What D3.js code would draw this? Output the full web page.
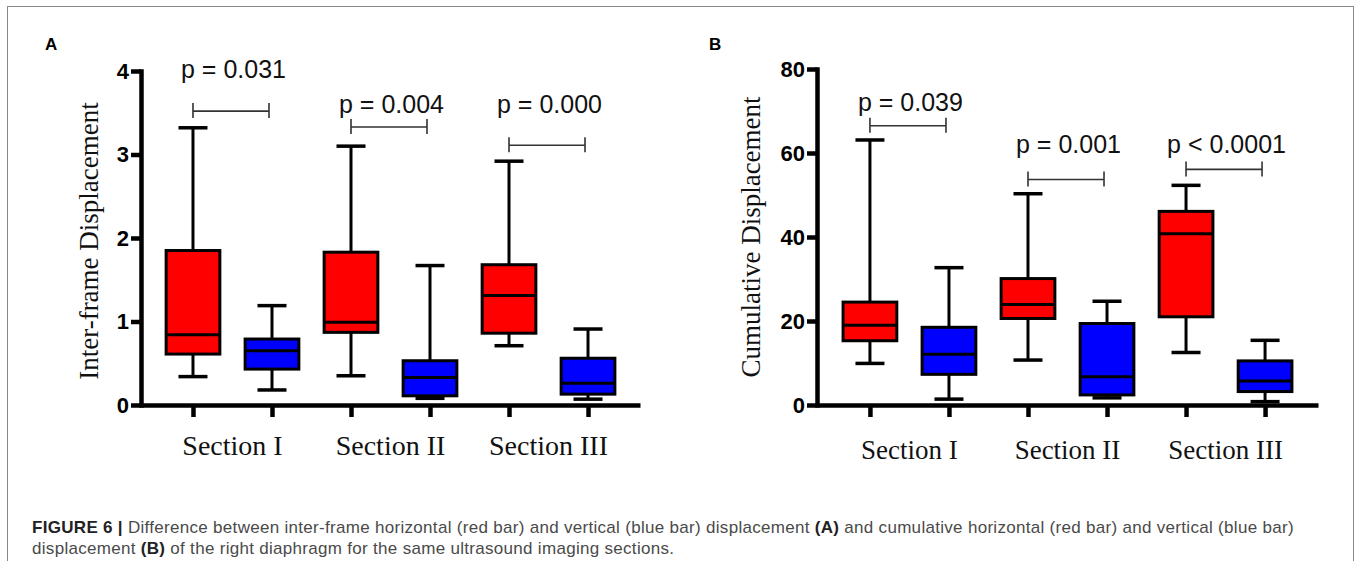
<!DOCTYPE html>
<html>
<head>
<meta charset="utf-8">
<script src="https://cdn.jsdelivr.net/npm/d3@7"></script>
<style>
  body { margin: 0; background: #fff; }
  .tick text { font-family: "Liberation Sans", Arial, sans-serif; font-weight: bold; font-size: 22px; fill: #000; }
  .ptext { font-family: "Liberation Sans", Arial, sans-serif; font-size: 25px; fill: #111; }
  .serif { font-family: "Liberation Serif", "Times New Roman", serif; font-size: 27px; fill: #111; }
  .cap { font-family: "Liberation Sans", Arial, sans-serif; font-size: 17px; letter-spacing: 0.3px; fill: #4a4a4a; }
</style>
</head>
<body>
<script>
var sections = ["Section I", "Section II", "Section III"];
var groups = ["horizontal", "vertical"];
var groupColors = ["#FF0000", "#0000FF"];

// [min, q1, median, q3, max] for each section
var interHorizontal = [[0.34, 0.61, 0.84, 1.85, 3.32], [0.35, 0.87, 0.99, 1.83, 3.10], [0.71, 0.86, 1.31, 1.68, 2.92]];
var interVertical = [[0.18, 0.43, 0.65, 0.79, 1.19], [0.08, 0.11, 0.33, 0.53, 1.67], [0.07, 0.13, 0.26, 0.56, 0.91]];
var cumHorizontal = [[9.9, 15.3, 19.0, 24.5, 63.1], [10.7, 20.6, 23.9, 30.1, 50.3], [12.5, 21.0, 40.8, 46.1, 52.3]];
var cumVertical = [[1.4, 7.3, 12.1, 18.5, 32.7], [1.7, 2.4, 6.7, 19.4, 24.7], [0.8, 3.2, 5.7, 10.5, 15.4]];

var interTicks = [0, 1, 2, 3, 4];
var cumTicks = [0, 20, 40, 60, 80];

var interP = ["p = 0.031", "p = 0.004", "p = 0.000"];
var interBracketAt = [3.52, 3.33, 3.11];
var interPAt = [3.92, 3.50, 3.50];
var cumP = ["p = 0.039", "p = 0.001", "p < 0.0001"];
var cumBracketAt = [66.5, 53.7, 56.1];
var cumPAt = [70.1, 59.9, 59.9];

var width = 1357, height = 561;

var svg = d3.select("body").append("svg")
  .attr("width", width)
  .attr("height", height);

svg.append("rect")
  .attr("x", 7.5)
  .attr("y", 6.5)
  .attr("width", 1346)
  .attr("height", 620)
  .attr("fill", "none")
  .attr("stroke", "#888")
  .attr("stroke-width", 1);

function drawPanel(p) {
  var g = svg.append("g");

  var y = d3.scaleLinear()
    .domain([0, p.ticks[p.ticks.length - 1]])
    .range([405, p.top]);

  var x = d3.scaleBand()
    .domain(sections)
    .range([p.left, p.right])
    .paddingInner(0)
    .paddingOuter(p.outer);

  var xi = d3.scaleBand()
    .domain(groups)
    .range([0, x.bandwidth()]);

  var boxW = xi.bandwidth() * 0.68;
  var capW = 29;
  var cx = function (s, k) { return x(s) + xi(k) + xi.bandwidth() / 2; };

  // panel letter
  g.append("text")
    .attr("x", p.letterX)
    .attr("y", 50)
    .attr("font-family", "Liberation Sans, Arial, sans-serif")
    .attr("font-weight", "bold")
    .attr("font-size", 17)
    .text(p.letter);

  // y axis
  var yAxis = g.append("g")
    .attr("transform", "translate(" + p.left + ",0)")
    .call(d3.axisLeft(y).tickValues(p.ticks).tickFormat(d3.format("d"))
      .tickSize(10).tickSizeOuter(0).tickPadding(2));
  yAxis.select(".domain").attr("stroke-width", 4.5).attr("stroke-linecap", "square").attr("stroke", "#000");
  yAxis.selectAll(".tick line").attr("stroke-width", 4.5).attr("stroke", "#000");

  // x axis (tick under every box)
  var ticksX = [];
  sections.forEach(function (s) { groups.forEach(function (k) { ticksX.push(cx(s, k)); }); });
  var xs = d3.scaleLinear().domain([p.left, p.right]).range([p.left, p.right]);
  var xAxis = g.append("g")
    .attr("transform", "translate(0,405)")
    .call(d3.axisBottom(xs).tickValues(ticksX).tickFormat("").tickSize(12).tickSizeOuter(0));
  xAxis.select(".domain").attr("stroke-width", 4.5).attr("stroke", "#000");
  xAxis.selectAll(".tick line").attr("stroke-width", 4.5).attr("stroke", "#000");

  // section labels
  g.selectAll(".sec")
    .data(sections)
    .join("text")
    .attr("class", "serif")
    .attr("font-size", p.labelSize)
    .style("font-size", p.labelSize + "px")
    .attr("x", function (s) { return x(s) + x.bandwidth() / 2; })
    .attr("y", p.labelY)
    .attr("text-anchor", "middle")
    .text(function (s) { return s; });

  // y title
  g.append("text")
    .attr("class", "serif")
    .attr("transform", "translate(" + p.titleX + "," + p.titleY + ") rotate(-90)")
    .attr("text-anchor", "middle")
    .text(p.title);

  // boxes
  groups.forEach(function (k, gi) {
    var data = p.series[gi];
    var bg = g.append("g");
    var items = bg.selectAll("g")
      .data(data)
      .join("g")
      .attr("transform", function (d, i) { return "translate(" + cx(sections[i], k) + ",0)"; });

    items.append("line")
      .attr("y1", function (d) { return y(d[0]); })
      .attr("y2", function (d) { return y(d[4]); })
      .attr("stroke", "#000").attr("stroke-width", 3);
    items.append("line")
      .attr("x1", -capW / 2).attr("x2", capW / 2)
      .attr("y1", function (d) { return y(d[0]); })
      .attr("y2", function (d) { return y(d[0]); })
      .attr("stroke", "#000").attr("stroke-width", 3.5);
    items.append("line")
      .attr("x1", -capW / 2).attr("x2", capW / 2)
      .attr("y1", function (d) { return y(d[4]); })
      .attr("y2", function (d) { return y(d[4]); })
      .attr("stroke", "#000").attr("stroke-width", 3.5);
    items.append("rect")
      .attr("x", -boxW / 2)
      .attr("width", boxW)
      .attr("y", function (d) { return y(d[3]); })
      .attr("height", function (d) { return y(d[1]) - y(d[3]); })
      .attr("fill", groupColors[gi])
      .attr("stroke", "#000").attr("stroke-width", 3);
    items.append("line")
      .attr("x1", -boxW / 2).attr("x2", boxW / 2)
      .attr("y1", function (d) { return y(d[2]); })
      .attr("y2", function (d) { return y(d[2]); })
      .attr("stroke", "#000").attr("stroke-width", 3);
  });

  // significance brackets
  var br = g.selectAll(".br")
    .data(sections)
    .join("g");
  br.append("path")
    .attr("d", function (s, i) {
      var x1 = cx(s, groups[0]), x2 = cx(s, groups[1]) - 3, yy = y(p.bracketAt[i]);
      return "M" + x1 + "," + (yy - 8) + "V" + (yy + 7) + "M" + x1 + "," + yy + "H" + x2 +
        "M" + x2 + "," + (yy - 8) + "V" + (yy + 7);
    })
    .attr("fill", "none")
    .attr("stroke", "#333")
    .attr("stroke-width", 1.6);
  br.append("text")
    .attr("class", "ptext")
    .attr("x", function (s) { return (cx(s, groups[0]) + cx(s, groups[1])) / 2 + 1; })
    .attr("y", function (s, i) { return y(p.pAt[i]); })
    .attr("text-anchor", "middle")
    .text(function (s, i) { return p.pText[i]; });
}

drawPanel({
  letter: "A", letterX: 45,
  left: 141, right: 640, top: 71, outer: 0.079,
  ticks: interTicks,
  series: [interHorizontal, interVertical],
  bracketAt: interBracketAt, pAt: interPAt, pText: interP,
  title: "Inter-frame Displacement", titleX: 98, titleY: 241,
  labelY: 455, labelSize: 28
});

drawPanel({
  letter: "B", letterX: 709,
  left: 817, right: 1318, top: 69, outer: 0.085,
  ticks: cumTicks,
  series: [cumHorizontal, cumVertical],
  bracketAt: cumBracketAt, pAt: cumPAt, pText: cumP,
  title: "Cumulative Displacement", titleX: 760, titleY: 237,
  labelY: 459, labelSize: 27
});

// caption
var cap1 = svg.append("text").attr("class", "cap").attr("x", 32).attr("y", 533);
cap1.append("tspan").attr("font-weight", "bold").attr("fill", "#222").text("FIGURE 6 |");
cap1.append("tspan").text(" Difference between inter-frame horizontal (red bar) and vertical (blue bar) displacement ");
cap1.append("tspan").attr("font-weight", "bold").attr("fill", "#222").text("(A)");
cap1.append("tspan").text(" and cumulative horizontal (red bar) and vertical (blue bar)");

var cap2 = svg.append("text").attr("class", "cap").attr("x", 32).attr("y", 554);
cap2.append("tspan").text("displacement ");
cap2.append("tspan").attr("font-weight", "bold").attr("fill", "#222").text("(B)");
cap2.append("tspan").text(" of the right diaphragm for the same ultrasound imaging sections.");
</script>
</body>
</html>
